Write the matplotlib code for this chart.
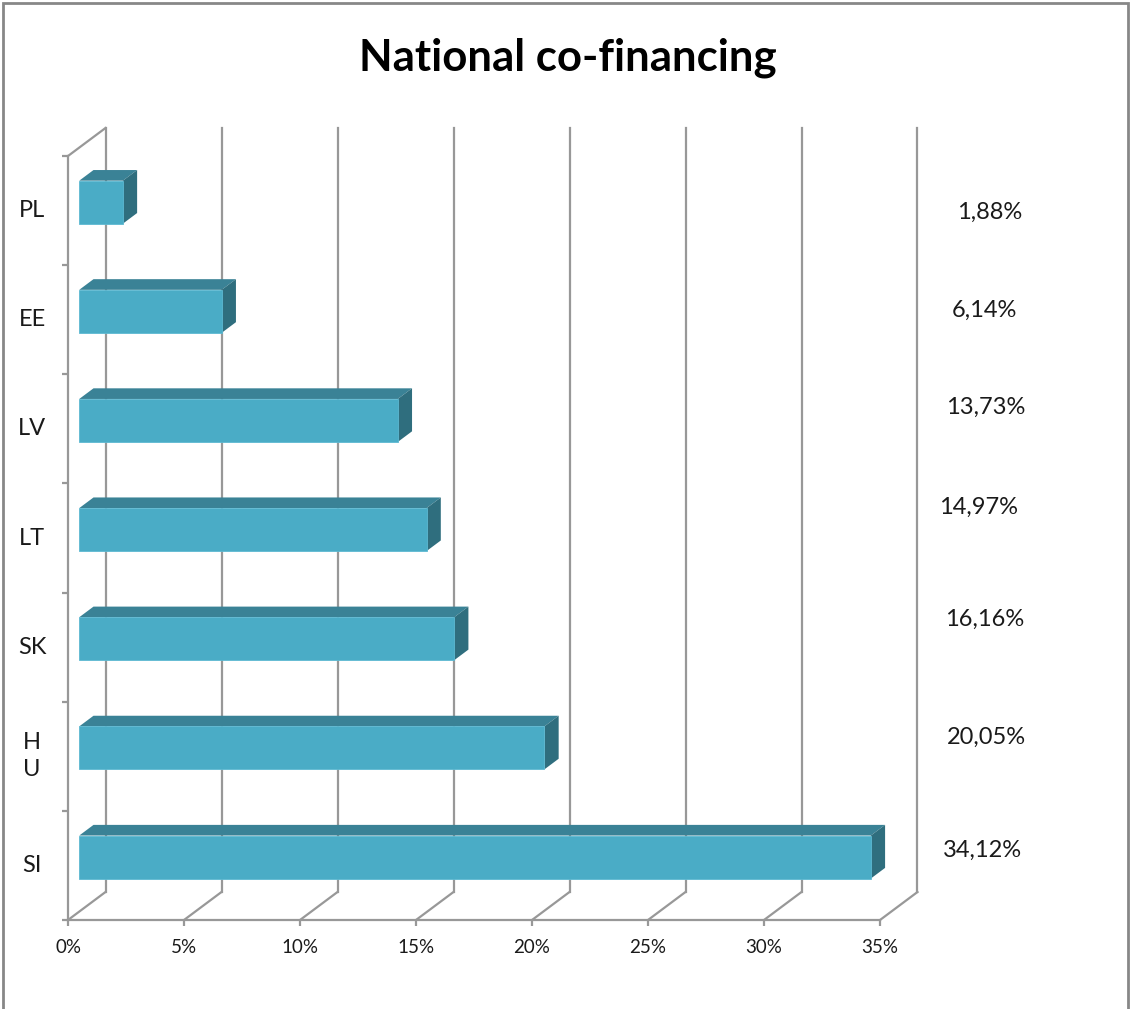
import matplotlib.pyplot as plt
from matplotlib.patches import Polygon, Rectangle

# national co-financing share by country
countries = ["PL", "EE", "LV", "LT", "SK", "H\nU", "SI"]
shares = [1.88, 6.14, 13.73, 14.97, 16.16, 20.05, 34.12]
x_ticks = [0, 5, 10, 15, 20, 25, 30, 35]

# label nudges in pixels (dx, dy), data labels sit at a fixed column
label_nudge = [(5, 2), (0, -9), (1, -22), (-6, -31), (0, -28), (2, -19), (-2, -15)]

plt.rcParams["font.family"] = ["Lato", "DejaVu Sans"]

W, H = 1130, 1009
fig = plt.figure(figsize=(W / 100, H / 100), dpi=100)
ax = fig.add_axes([68 / W, 1 - 920 / H, 812 / W, 764 / H])
ax.set_xlim(0, 35)
ax.set_ylim(len(countries) - 0.5, -0.5)

# depth of the 3d box in data units
DX = 37.5 / (812 / 35)
DY = 28 / (764 / len(countries))
grid_c = "#989898"


def proj(x, y, d):
    return (x + d * DX, y - d * DY)


y_bot = len(countries) - 0.5
y_top = -0.5

# back wall gridlines and floor diagonals
for t in x_ticks:
    p0, p1 = proj(t, y_bot, 1), proj(t, y_top, 1)
    ax.plot([p0[0], p1[0]], [p0[1], p1[1]], color=grid_c, lw=1.6, clip_on=False, zorder=1)
    f0, f1 = proj(t, y_bot, 0), proj(t, y_bot, 1)
    ax.plot([f0[0], f1[0]], [f0[1], f1[1]], color=grid_c, lw=1.6, clip_on=False, zorder=1)

# top edge of the left wall
a, b = proj(0, y_top, 0), proj(0, y_top, 1)
ax.plot([a[0], b[0]], [a[1], b[1]], color=grid_c, lw=1.6, clip_on=False, zorder=1)

# 3d bars
front_c, top_c, side_c = "#4AACC6", "#3A8296", "#2F6E7E"
d0, d1 = 0.30, 0.68
hh = 0.197
for i, v in enumerate(shares):
    yt, yb = i - hh, i + hh
    front = [proj(0, yt, d0), proj(v, yt, d0), proj(v, yb, d0), proj(0, yb, d0)]
    top = [proj(0, yt, d0), proj(v, yt, d0), proj(v, yt, d1), proj(0, yt, d1)]
    side = [proj(v, yt, d0), proj(v, yb, d0), proj(v, yb, d1), proj(v, yt, d1)]
    ax.add_patch(Polygon(top, closed=True, fc=top_c, ec="none", clip_on=False, zorder=3))
    ax.add_patch(Polygon(side, closed=True, fc=side_c, ec="none", clip_on=False, zorder=3))
    ax.add_patch(Polygon(front, closed=True, fc=front_c, ec="#5DB9D2", lw=0.6,
                         clip_on=False, zorder=4))

    # value label in the right column
    dx, dy = label_nudge[i]
    ax.annotate(f"{v:.2f}".replace(".", ",") + "%", xy=(39.5, i), xycoords="data",
                xytext=(dx * 0.72, -dy * 0.72), textcoords="offset points",
                ha="center", va="center", fontsize=17, color="#1a1a1a",
                annotation_clip=False)

    # category label
    ax.text(-1.55, i, countries[i], ha="center", va="center", fontsize=17,
            color="#1a1a1a", linespacing=1.35)

# axes frame of the front plane
for s in ["top", "right"]:
    ax.spines[s].set_visible(False)
for s in ["left", "bottom"]:
    ax.spines[s].set_color(grid_c)
    ax.spines[s].set_linewidth(1.6)
ax.set_xticks(x_ticks)
ax.set_xticklabels([f"{t}%" for t in x_ticks])
ax.set_yticks([k - 0.5 for k in range(len(countries) + 1)])
ax.set_yticklabels([])
ax.tick_params(axis="both", color=grid_c, width=1.6, length=4.5)
ax.tick_params(axis="x", labelsize=13.5, pad=9, labelcolor="#1a1a1a")
ax.patch.set_visible(False)

fig.text(568 / W, 1 - 70 / H, "National co-financing", ha="center", va="baseline",
         fontsize=31.5, fontweight="bold", color="black")

# outer chart border
fig.add_artist(Rectangle((3 / W, -0.02), 1125 / W, 1 - 3 / H + 0.02,
                         transform=fig.transFigure, fill=False, ec="#878787", lw=2))

fig.savefig("out.png", dpi=100)
